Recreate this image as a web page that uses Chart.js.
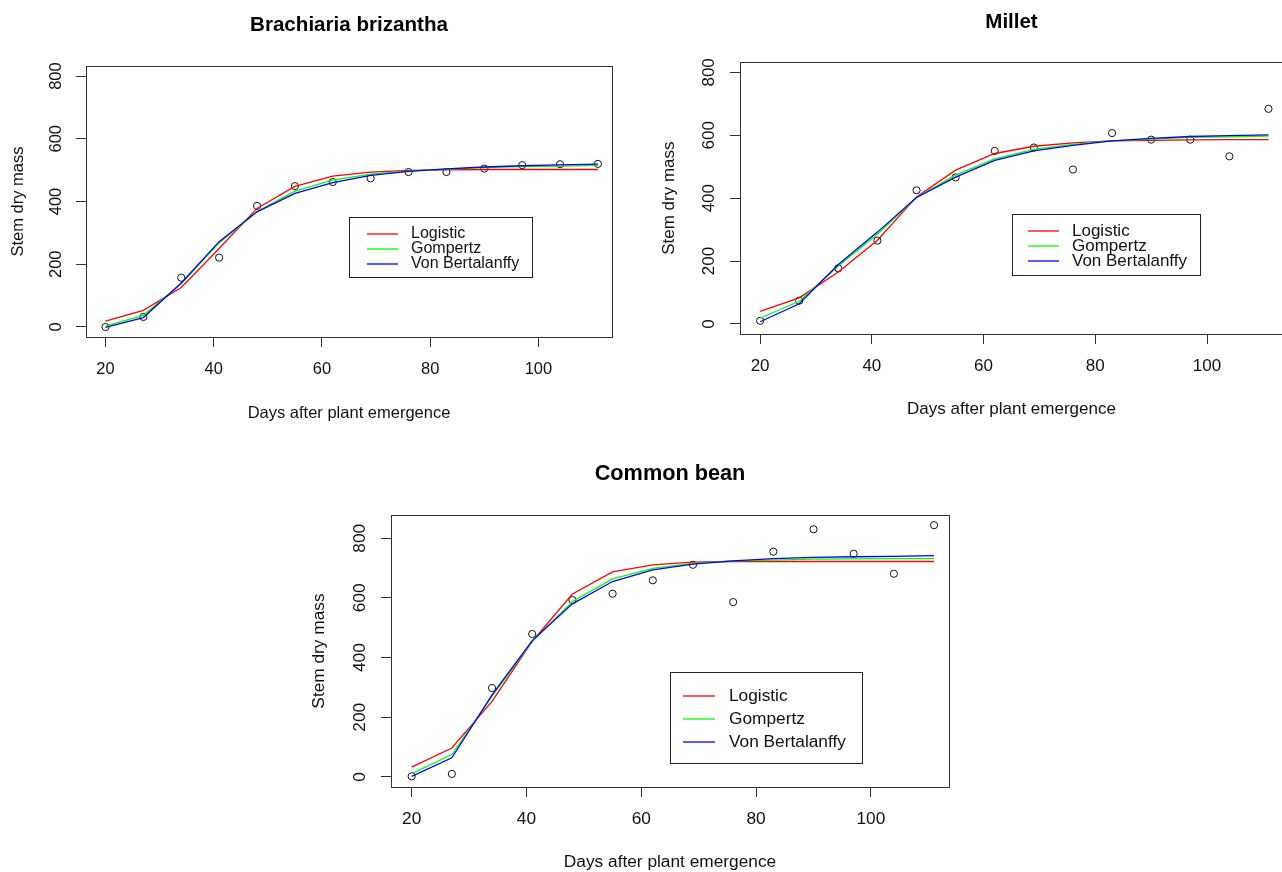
<!DOCTYPE html>
<html>
<head>
<meta charset="utf-8">
<script src="https://cdn.jsdelivr.net/npm/chart.js@4.4.1/dist/chart.umd.min.js"></script>
<style>
html, body { margin: 0; padding: 0; background: #ffffff; overflow: hidden; width: 1282px; height: 872px; }
.wrap { position: absolute; }
</style>
</head>
<body>
<div class="wrap" style="left:0px; top:0px; width:640px; height:430px;"><canvas id="c1"></canvas></div>
<div class="wrap" style="left:654px; top:0px; width:639px; height:430px;"><canvas id="c2"></canvas></div>
<div class="wrap" style="left:305px; top:440px; width:700px; height:436px;"><canvas id="c3"></canvas></div>
<script>
// ---------- data ----------
const days = [20, 27, 34, 41, 48, 55, 62, 69, 76, 83, 90, 97, 104, 111];
const xTicks = [20, 40, 60, 80, 100];
const yTicks = [0, 200, 400, 600, 800];
const seriesNames = ['Logistic', 'Gompertz', 'Von Bertalanffy'];
const seriesColors = ['#FF0000', '#00FF00', '#0000FF'];

const brachiariaObserved  = [0, 32, 157, 221, 386, 449, 462, 474, 494, 494, 505, 516, 519, 520];
const brachiariaLogistic  = [19, 53, 126, 250, 378, 448, 481, 494, 499, 501, 502, 502, 502, 502];
const brachiariaGompertz  = [3, 37, 138, 268, 368, 433, 468, 487, 497, 503, 508, 511, 513, 515];
const brachiariaVonBert   = [-1, 30, 140, 272, 367, 426, 460, 483, 496, 504, 510, 514, 517, 519];

const milletObserved  = [10, 74, 177, 265, 425, 466, 550, 561, 491, 607, 586, 586, 533, 684];
const milletLogistic  = [40, 83, 165, 266, 404, 489, 542, 565, 576, 582, 584, 585, 586, 586];
const milletGompertz  = [18, 72, 184, 285, 402, 473, 525, 555, 571, 582, 588, 593, 595, 597];
const milletVonBert   = [7, 64, 189, 292, 402, 467, 520, 550, 568, 582, 590, 596, 599, 601];

const beanObserved  = [2, 10, 298, 479, 593, 614, 659, 711, 586, 755, 830, 748, 681, 844];
const beanLogistic  = [33, 97, 253, 454, 613, 687, 711, 720, 722, 722, 722, 722, 722, 722];
const beanGompertz  = [11, 75, 270, 454, 588, 664, 699, 716, 724, 727, 730, 731, 732, 732];
const beanVonBert   = [2, 64, 275, 457, 580, 655, 694, 713, 724, 732, 736, 738, 739, 742];

// ---------- setup ----------
const FONT = '"Liberation Sans", Arial, Helvetica, sans-serif';
Chart.defaults.font.family = FONT;
Chart.defaults.color = '#000000';

const toPts = arr => days.map((d, i) => ({ x: d, y: arr[i] }));

const framePlugin = {
  id: 'frame',
  afterDatasetsDraw(chart) {
    const { ctx, chartArea: a } = chart;
    ctx.save();
    ctx.strokeStyle = '#333333';
    ctx.lineWidth = 1;
    ctx.strokeRect(Math.round(a.left) + 0.5, Math.round(a.top) + 0.5,
                   Math.round(a.right - a.left), Math.round(a.bottom - a.top));
    ctx.restore();
  }
};

const boxLegendPlugin = {
  id: 'boxLegend',
  afterDraw(chart, args, opts) {
    const { ctx } = chart;
    const xs = chart.scales.x, ys = chart.scales.y;
    const left = Math.round(xs.getPixelForValue(opts.atX));
    const top = Math.round(ys.getPixelForValue(opts.atY));
    ctx.save();
    ctx.fillStyle = '#ffffff';
    ctx.fillRect(left, top, opts.width, opts.height);
    ctx.strokeStyle = '#222222';
    ctx.lineWidth = 1;
    ctx.strokeRect(left + 0.5, top + 0.5, opts.width, opts.height);
    ctx.font = opts.fontSize + 'px ' + FONT;
    ctx.textBaseline = 'middle';
    ctx.textAlign = 'left';
    seriesNames.forEach((name, i) => {
      const y = top + opts.rows[i];
      ctx.strokeStyle = seriesColors[i];
      ctx.lineWidth = 1.3;
      ctx.beginPath();
      ctx.moveTo(left + opts.lineFrom, y);
      ctx.lineTo(left + opts.lineTo, y);
      ctx.stroke();
      ctx.fillStyle = '#111111';
      ctx.fillText(name, left + opts.textAt, y);
    });
    ctx.restore();
  }
};

function makeChart(id, titleText, obs, logi, gomp, vb, lay) {
  const lineDs = (label, arr, color) => ({
    label, data: toPts(arr), showLine: true, borderColor: color, backgroundColor: color,
    borderWidth: 1.3, pointRadius: 0, tension: 0, fill: false
  });
  return new Chart(document.getElementById(id), {
    type: 'scatter',
    data: {
      datasets: [
        lineDs(seriesNames[2], vb, seriesColors[2]),
        lineDs(seriesNames[1], gomp, seriesColors[1]),
        lineDs(seriesNames[0], logi, seriesColors[0]),
        { label: 'Observed', data: toPts(obs), showLine: false, pointRadius: 3.6,
          pointBorderWidth: 1, pointBorderColor: '#111111', pointBackgroundColor: 'rgba(0,0,0,0)' }
      ]
    },
    options: {
      responsive: true,
      maintainAspectRatio: false,
      devicePixelRatio: 1,
      animation: false,
      layout: { padding: { left: 0, top: 0, bottom: 0, right: lay.padRight } },
      plugins: {
        legend: { display: false },
        tooltip: { enabled: false },
        title: {
          display: true, text: titleText, fullSize: false, color: '#000000',
          font: { size: lay.titleSize, weight: 'bold' },
          padding: { top: lay.titleTop, bottom: lay.titleBottom }
        },
        boxLegend: lay.legend
      },
      scales: {
        x: {
          type: 'linear', min: 16.4, max: 113.6,
          afterBuildTicks: s => { s.ticks = xTicks.map(v => ({ value: v })); },
          afterFit: s => { s.height = lay.xAxisHeight; },
          grid: { drawOnChartArea: false, drawTicks: true, tickLength: 10, color: '#333333', tickColor: '#333333' },
          border: { display: true, color: '#333333', width: 1 },
          ticks: { font: { size: lay.fontSize }, color: '#111111', padding: lay.xTickPad, maxRotation: 0, minRotation: 0 },
          title: { display: true, text: 'Days after plant emergence', color: '#111111',
                   font: { size: lay.fontSize }, padding: { top: 0, bottom: lay.xTitleBottom } }
        },
        y: {
          type: 'linear', min: lay.yMin, max: lay.yMax,
          afterBuildTicks: s => { s.ticks = yTicks.map(v => ({ value: v })); },
          afterFit: s => { s.width = lay.yAxisWidth; },
          grid: { drawOnChartArea: false, drawTicks: true, tickLength: 10, color: '#333333', tickColor: '#333333' },
          border: { display: true, color: '#333333', width: 1 },
          ticks: { font: { size: lay.fontSize }, color: '#111111', padding: lay.yTickPad,
                   minRotation: 90, maxRotation: 90, crossAlign: 'center' },
          title: { display: true, text: 'Stem dry mass', color: '#111111',
                   font: { size: lay.fontSize }, padding: { top: lay.yTitleTop, bottom: 0 } }
        }
      }
    },
    plugins: [framePlugin, boxLegendPlugin]
  });
}

makeChart('c1', 'Brachiaria brizantha',
  brachiariaObserved, brachiariaLogistic, brachiariaGompertz, brachiariaVonBert, {
    fontSize: 16.5, titleSize: 20.6,
    padRight: 28, titleTop: 12.6, titleBottom: 28.7, xAxisHeight: 93, yAxisWidth: 86,
    xTickPad: 12.7, xTitleBottom: 6.7, yTickPad: 5.5, yTitleTop: 8.6, yMin: -32, yMax: 832,
    legend: { atX: 65, atY: 350, width: 183, height: 60, rows: [17, 32, 47], lineFrom: 18, lineTo: 49, textAt: 62, fontSize: 16 }
  });

makeChart('c2', 'Millet',
  milletObserved, milletLogistic, milletGompertz, milletVonBert, {
    fontSize: 17, titleSize: 20.5,
    padRight: 10, titleTop: 10, titleBottom: 27.7, xAxisHeight: 96, yAxisWidth: 86,
    xTickPad: 12.3, xTitleBottom: 10.4, yTickPad: 7, yTitleTop: 5.4, yMin: -32, yMax: 832,
    legend: { atX: 65, atY: 350, width: 188, height: 61, rows: [17, 32, 47], lineFrom: 16, lineTo: 47, textAt: 60, fontSize: 17 }
  });

makeChart('c3', 'Common bean',
  beanObserved, beanLogistic, beanGompertz, beanVonBert, {
    fontSize: 17.3, titleSize: 21.7,
    padRight: 56, titleTop: 21.3, titleBottom: 27.7, xAxisHeight: 89, yAxisWidth: 86,
    xTickPad: 12, xTitleBottom: 3.2, yTickPad: 6.6, yTitleTop: 4.2, yMin: -33.8, yMax: 877.8,
    legend: { atX: 65, atY: 350, width: 192, height: 91, rows: [24, 47, 70], lineFrom: 13, lineTo: 45, textAt: 59, fontSize: 17.3 }
  });
</script>
</body>
</html>
